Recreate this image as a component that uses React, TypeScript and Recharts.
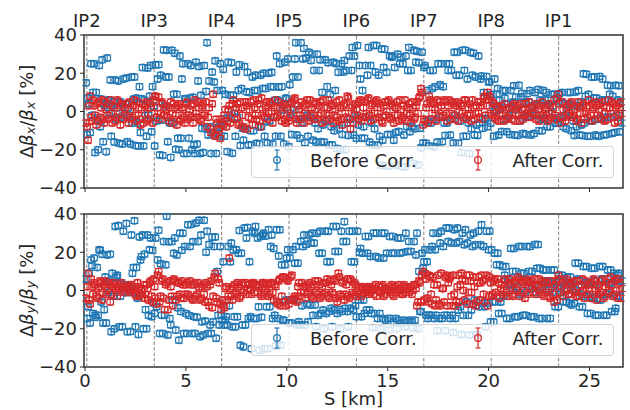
import React from 'react';
import {
  ScatterChart,
  Scatter,
  XAxis,
  YAxis,
  ErrorBar,
  ReferenceLine,
  ReferenceArea,
} from 'recharts';

// BPM positions along the ring [km], two interleaved families
const S_KM_A = [
  0.05, 0.15, 0.25, 0.35, 0.45, 0.55, 0.65, 0.75, 0.85, 0.95,
  1.05, 1.15, 1.25, 1.35, 1.45, 1.55, 1.65, 1.75, 1.85, 1.95,
  2.05, 2.15, 2.25, 2.35, 2.45, 2.55, 2.65, 2.75, 2.85, 2.95,
  3.05, 3.15, 3.25, 3.35, 3.45, 3.55, 3.65, 3.75, 3.85, 3.95,
  4.05, 4.15, 4.25, 4.35, 4.45, 4.55, 4.65, 4.75, 4.85, 4.95,
  5.05, 5.15, 5.25, 5.35, 5.45, 5.55, 5.65, 5.75, 5.85, 5.95,
  6.05, 6.15, 6.25, 6.35, 6.45, 6.55, 6.65, 6.75, 6.85, 6.95,
  7.05, 7.15, 7.25, 7.35, 7.45, 7.55, 7.65, 7.75, 7.85, 7.95,
  8.05, 8.15, 8.25, 8.35, 8.45, 8.55, 8.65, 8.75, 8.85, 8.95,
  9.05, 9.15, 9.25, 9.35, 9.45, 9.55, 9.65, 9.75, 9.85, 9.95,
  10.05, 10.15, 10.25, 10.35, 10.45, 10.55, 10.65, 10.75, 10.85, 10.95,
  11.05, 11.15, 11.25, 11.35, 11.45, 11.55, 11.65, 11.75, 11.85, 11.95,
  12.05, 12.15, 12.25, 12.35, 12.45, 12.55, 12.65, 12.75, 12.85, 12.95,
  13.05, 13.15, 13.25, 13.35, 13.45, 13.55, 13.65, 13.75, 13.85, 13.95,
  14.05, 14.15, 14.25, 14.35, 14.45, 14.55, 14.65, 14.75, 14.85, 14.95,
  15.05, 15.15, 15.25, 15.35, 15.45, 15.55, 15.65, 15.75, 15.85, 15.95,
  16.05, 16.15, 16.25, 16.35, 16.45, 16.55, 16.65, 16.75, 16.85, 16.95,
  17.05, 17.15, 17.25, 17.35, 17.45, 17.55, 17.65, 17.75, 17.85, 17.95,
  18.05, 18.15, 18.25, 18.35, 18.45, 18.55, 18.65, 18.75, 18.85, 18.95,
  19.05, 19.15, 19.25, 19.35, 19.45, 19.55, 19.65, 19.75, 19.85, 19.95,
  20.05, 20.15, 20.25, 20.35, 20.45, 20.55, 20.65, 20.75, 20.85, 20.95,
  21.05, 21.15, 21.25, 21.35, 21.45, 21.55, 21.65, 21.75, 21.85, 21.95,
  22.05, 22.15, 22.25, 22.35, 22.45, 22.55, 22.65, 22.75, 22.85, 22.95,
  23.05, 23.15, 23.25, 23.35, 23.45, 23.55, 23.65, 23.75, 23.85, 23.95,
  24.05, 24.15, 24.25, 24.35, 24.45, 24.55, 24.65, 24.75, 24.85, 24.95,
  25.05, 25.15, 25.25, 25.35, 25.45, 25.55, 25.65, 25.75, 25.85, 25.95,
  26.05, 26.15, 26.25, 26.35, 26.45, 26.55,
];

const S_KM_B = [
  0.1, 0.2, 0.3, 0.4, 0.5, 0.6, 0.7, 0.8, 0.9, 1.0,
  1.1, 1.2, 1.3, 1.4, 1.5, 1.6, 1.7, 1.8, 1.9, 2.0,
  2.1, 2.2, 2.3, 2.4, 2.5, 2.6, 2.7, 2.8, 2.9, 3.0,
  3.1, 3.2, 3.3, 3.4, 3.5, 3.6, 3.7, 3.8, 3.9, 4.0,
  4.1, 4.2, 4.3, 4.4, 4.5, 4.6, 4.7, 4.8, 4.9, 5.0,
  5.1, 5.2, 5.3, 5.4, 5.5, 5.6, 5.7, 5.8, 5.9, 6.0,
  6.1, 6.2, 6.3, 6.4, 6.5, 6.6, 6.7, 6.8, 6.9, 7.0,
  7.1, 7.2, 7.3, 7.4, 7.5, 7.6, 7.7, 7.8, 7.9, 8.0,
  8.1, 8.2, 8.3, 8.4, 8.5, 8.6, 8.7, 8.8, 8.9, 9.0,
  9.1, 9.2, 9.3, 9.4, 9.5, 9.6, 9.7, 9.8, 9.9, 10.0,
  10.1, 10.2, 10.3, 10.4, 10.5, 10.6, 10.7, 10.8, 10.9, 11.0,
  11.1, 11.2, 11.3, 11.4, 11.5, 11.6, 11.7, 11.8, 11.9, 12.0,
  12.1, 12.2, 12.3, 12.4, 12.5, 12.6, 12.7, 12.8, 12.9, 13.0,
  13.1, 13.2, 13.3, 13.4, 13.5, 13.6, 13.7, 13.8, 13.9, 14.0,
  14.1, 14.2, 14.3, 14.4, 14.5, 14.6, 14.7, 14.8, 14.9, 15.0,
  15.1, 15.2, 15.3, 15.4, 15.5, 15.6, 15.7, 15.8, 15.9, 16.0,
  16.1, 16.2, 16.3, 16.4, 16.5, 16.6, 16.7, 16.8, 16.9, 17.0,
  17.1, 17.2, 17.3, 17.4, 17.5, 17.6, 17.7, 17.8, 17.9, 18.0,
  18.1, 18.2, 18.3, 18.4, 18.5, 18.6, 18.7, 18.8, 18.9, 19.0,
  19.1, 19.2, 19.3, 19.4, 19.5, 19.6, 19.7, 19.8, 19.9, 20.0,
  20.1, 20.2, 20.3, 20.4, 20.5, 20.6, 20.7, 20.8, 20.9, 21.0,
  21.1, 21.2, 21.3, 21.4, 21.5, 21.6, 21.7, 21.8, 21.9, 22.0,
  22.1, 22.2, 22.3, 22.4, 22.5, 22.6, 22.7, 22.8, 22.9, 23.0,
  23.1, 23.2, 23.3, 23.4, 23.5, 23.6, 23.7, 23.8, 23.9, 24.0,
  24.1, 24.2, 24.3, 24.4, 24.5, 24.6, 24.7, 24.8, 24.9, 25.0,
  25.1, 25.2, 25.3, 25.4, 25.5, 25.6, 25.7, 25.8, 25.9, 26.0,
  26.1, 26.2, 26.3, 26.4, 26.5, 26.6,
];

// horizontal beta-beating [%], before correction
const DBX_BEFORE_A = [
  15, 7, -11, -2, 25, 10, -20, -8, 27, 4,
  -21, 6, 16.5, 3, -16, -4, 16, 5, -17, -1,
  17.5, 2, -17, -6, 18, 7, -18, -11, 23, 6,
  -13, -2, 24, 13, -18, -5, 24.5, 19, -23, 3,
  32, 18, -24, -6, 30.5, 9, -20, -14, 25, 6.7,
  -22, -14, 24, 7.5, -22, -17, 23.5, 8.5, -21.5, -9,
  36, 16, -22, -12, 26.5, 11, -13, -8, 22, 9,
  -21, -2, 25.5, 8.5, -13, -3, 24.5, 12, -15, -9,
  20.5, 10, -17.5, -10, 19, 11, -17, -8, 20, 12,
  -16.5, -5, 20.5, 13, -13, 6, 25, 13, -17, 7,
  27.5, 14, -12, 1, 36, 18, -14, -6, 33, 28,
  -13, -3, 30, 21.5, -16, -9, 27, 10, -16, -5,
  25.5, 9, -17.5, -10, 25, 20.5, -20, -12, 26.7, 21.5,
  -12.5, -4, 33.5, 29, -14, -7, 17, 11, -14, -3,
  33.5, 24, -17.5, -9, 34.5, 19, -28, -15, 32.5, 20.5,
  -28.5, -12, 29, 23, -28, -10.5, 28.5, 25, -29, -8,
  33.5, 21.5, -27, -9, 31.5, 25.5, -19, -16.5, 24, 11,
  -18, -6, 21.5, 13, -16, -3, 25, 13, -12.5, -6,
  25, 21.5, -16.5, -2, 31, 19, -21.5, -13, 32, 17,
  -22, -9, 30.5, 18, -12.5, -6, 18.5, 10, -4, -8,
  15.5, 9, -13, 0.5, 12, 6, -10.5, -4, 11, 4,
  -12, 2, 13.5, 7.5, -12.5, -5, 9.5, 5, -12, -3,
  11, 3, -11.5, -2, 11.5, 6, -10, -4, 10, 4,
  -8, -1, 9, 7, -6, -3, 10, 4, -9, 0,
  10, 3, -12.5, -8, 11, 5, -12.5, -6, 19.5, 9,
  -13, -5, 18, 7, -13, -4, 17, 6, -12, -3,
  13.5, 8, -11, -2, 13.5, 5,
];

const DBX_BEFORE_B = [
  -12, 4, 25, 10, -21.5, -4, 24, 6.5, -15.8, 3,
  28, -1, -13, 5, 16.5, 2, -16.6, -3, 17, 4,
  -15.8, -2, 18, 6.5, -17.8, -6, 13, 6.7, -18, -2,
  22.7, 8, -10.6, 2.8, 24.4, 17, -22.7, -4.5, 32.2, 18,
  -15.8, -6, 32, 9, -19.8, -14, 29, 17, -22, 6.7,
  25, 7, -20, -17.5, 25.8, 16, -22, -8.8, 24, 10.5,
  -12.3, -8, 20.6, 15.4, -22, -8.3, 25, 11, -13, -3.6,
  25.8, 8.5, -21.8, -1, 20.6, 11, -17.8, -8.8, 23.5, 10.3,
  -17.5, -10, 18, 11, -16.6, -8, 19, 12, -13, -5.4,
  20, 13, -17, 5.9, 29, 12.8, -13, 0.7, 25.8, 6.7,
  -18.4, -1, 18, 27.5, -12.3, -4, 36, 27.5, -16.3, -2,
  31, 26.7, -15, -6, 30, 21.5, -15.8, -7, 27, 13,
  -17.5, -8, 25.8, 11, -19.3, -9, 25, 20.6, -20, -6,
  29, 21.5, -12.3, -2, 34.5, 24, -14, -8, 24, 19,
  -16, -6, 34.5, 20.6, -17.5, -13, 32.7, 23, -28.5, -12,
  29, 28.4, -15, -11, 30, 25, -28.8, -12.3, 29, 21.5,
  -10.6, -8, 32, 25.8, -28, -8.8, 31, 23, -16.6, -5,
  21.5, 12, -18.4, -4, 25, 14, -15.8, -6, 25, 21.5,
  -12.3, -4, 31, 19, -16.6, -5, 32, 21.5, -13, -6,
  31, 19, -12.3, -7, 29, 17, -8.8, -3.6, 18.3, 15.4,
  -6.2, 3, 17, 9, -12.3, 2, 11, 7, -10.6, -2,
  11, 5, -12.3, 1, 13.7, 7.6, -11.5, -3, 9.3, 5,
  -12.3, -2, 10, 4, -10, -4, 11, 6, -8, -1,
  9, 3, -6.2, -4, 9.3, 5, -8, -2, 10, 4,
  -10, -5, 10.2, 3, -12.3, -7, 19.7, 8, -13, -5,
  18, 7, -12.3, -4, 18.3, 6, -12.3, -3, 13.7, 9,
  -11.5, -3, 13.7, 6, -10.6, -6,
];

// horizontal beta-beating [%], after correction
const DBX_AFTER_A = [
  -6, -15, 8, -5, 3, -7, 5, -3, 6, -6,
  1, -4, 6, -6, 2, -3, 5, -7, 3, -2,
  4, -6, 1, -3, 6, -5, 2, -7, 4, -1,
  5, -4, 2, -6, 8, -3, 7.5, -1, 4, -2,
  3, -5, 5, -1, 2, -7, 4, -4, 1, -6,
  5, -2, 3, -6, 6, -3, 2, -5, 4, -1,
  -8, 2, -11, 9, -13, -6, -10, -4, -7, 1,
  -5, 3, -3, 6, -1, 4, -6, 2, -8, 5,
  -9, 1, -4, 6, -2, 4, -5, 7, -1, 3,
  -4, 5, 0, -3, 6, -2, 2, -5, 4, -6,
  1, -3, 5, 6, -4, 3, -2, 5, -6, 4,
  -3, 6, 1, -4, 4, -2, 5, -6, 2, -1,
  6, -4, 3, -2, 5, -5, 2, -7, 4, -3,
  7, -9, 3, -2, 1, -4, 6, -3, 5, -1,
  7, -5, 4, -1, 6, -3, 2, -6, 5, 0,
  6, -4, 3, -2, 5, -5, 1, -3, 6, -1,
  4, -6, 2, -3, 5, 7, 12, -7, -5, 4,
  8, -4, 5, 1, 6, -3, 3, -2, 5, -5,
  6, -1, 4, -4, 5, 0, 3, -3, 6, -2,
  4, -5, 2, -1, 5, -3, 3, 7, -2, 10,
  8, -2, 4, -4, 2, -1, 3, -5, 1, -3,
  2, -4, 4, -1, 3, -5, 1, -2, 4, -3,
  2, -1, 3, -4, 1, -2, 5, -3, 2, -5,
  3, -1, 6, -4, 9, -6, 5, -3, 2, -2,
  4, -3, 1, -5, 5, -1, 3, -4, 2, 6,
  -2, 4, -4, 3, 1, -3, 5, -5, 2, 6,
  -1, 4, -6, 3, -2, 5,
];

const DBX_AFTER_B = [
  -8, 3, -3, 6, -2, 4, -5, 2, -4, 5,
  -2, 4, -1, 3, -5, 6, -1, 4, -4, 2,
  -3, 5, -4, 3, -2, 5, -4, 1, -6, 3,
  -5, 4, -1, 6, 8, 2, -4, 5, -2, 1,
  -3, 2, -6, 4, -2, 3, -5, 2, -3, 4,
  -4, 1, -3, 4, -1, 5, -4, 3, -2, 5,
  -3, -9, 4, -12, -4, -9, -14, -6, -2, -8,
  1, -6, 4, -4, 2, -7, 5, -2, -9, 3,
  -3, 5, -7, 2, -4, 6, -8, 1, -3, 5,
  -1, 4, -6, 2, -3, 5, -1, 3, -4, 2,
  -5, 4, -2, 7, -6, 1, -4, 3, -1, 6,
  -5, 2, -2, 5, -4, 3, -1, 6, -5, 2,
  -2, 4, -6, 1, -3, 6, -4, 3, -1, 8,
  -4, 2, -6, 4, -2, 5, -5, 2, -3, 6,
  -2, 3, -4, 5, -1, 4, -5, 3, -2, 5,
  -3, 4, -6, 2, -2, 6, -4, 3, -5, 2,
  -2, 5, -4, 3, -1, 8, 10, -4, 2, -6,
  6, -1, 4, -5, 2, 5, -3, 6, -1, 3,
  -4, 5, -2, 3, -5, 4, -1, 6, -4, 2,
  -2, 6, -4, 3, -1, 5, -4, 8, 3, 6,
  -1, 5, -3, 3, -5, 1, -2, 4, -4, 2,
  -1, 3, -5, 2, -2, 4, -4, 1, -1, 5,
  -3, 2, -1, 4, -5, 3, -2, 1, -4, 4,
  -3, 2, -2, 7, 4, -3, 1, -5, 3, -1,
  5, -2, 3, -4, 2, -6, 4, -1, -3, 3,
  -5, 2, 5, -2, 4, -4, 3, -1, -4, 2,
  5, -3, 2, -5, 4, -1,
];

// vertical beta-beating [%], before correction
const DBY_BEFORE_A = [
  6, -8.5, -17, 13, 17, -14, -13, 21, 19, -10,
  -17, -1, 19, 9, -20, 7, 34, -3, -19, 3,
  35, -1, -21.5, 9, 36.5, 12, -23, 16, 29, 19,
  -20, -13, 27.5, 21, -12, -8.5, 31.5, 14, -22.5, -13,
  38.8, 25.5, -18, -5, 27.5, 18.5, -26, -11, 30, 23,
  -22.5, -13, 34.5, 25.5, -22.5, -14, 36.7, 29, -23.3, -16,
  31, 24, -22.5, -16.4, 28, 10, -18, -13, 15, -15.5,
  -18, -8, 24.8, 21, -19, -13.7, 31.4, 19.5, -29.5, -18,
  33, 15, -30.4, -14.6, 33.5, 27.4, -31.2, -14, 30, 28.5,
  -30.4, -8.5, 29, 22, -29, -14.6, 31.8, 13.4, -15.5, -5,
  21.3, 17, -17, -5, 23, 14.3, -18, -8, 29, 24,
  -16.4, -7.6, 30, 24.8, -19, -13, 31, 19.5, -20, -12,
  31, 15, -19, -10.2, 33.5, 20.4, -20, -11, 36, 25.6,
  -19, -9.3, 31, 15, -13.7, -5, 22, 19.5, -12, -10.2,
  28.3, 17.8, -19.5, -12, 30, 17, -20, -14.6, 30, 19.5,
  -20.5, -14.6, 28.3, 19.5, -20, -15.5, 27.4, 19.9, -19, -16.4,
  25.6, 20.4, -19.5, -15.5, 30, 10, -11, 11.6, 21.3, 15,
  -13, -12.9, 30, 21.3, -21, -14.6, 31, 23, -21, -13,
  32.7, 24.8, -22, -14.6, 32.7, 25.6, -23, -13, 31.8, 24.8,
  -23.3, -10.2, 30, 23.9, -23, -8.5, 34.4, 23, -19, -6.7,
  31, 21.3, -16.4, -5.9, 19.5, 13.4, -12, -3, 12.5, 6,
  -14.6, 1, 22, 10, -13.7, -2, 23, 9, -13, 2,
  23, 10, -13.7, -1, 24, 11.6, -14.6, 3, 10.7, 5,
  -14.6, -1, 10.7, 4, -8.5, 1, 8, 3, -5.9, -2,
  7, 2, -6.7, 0, 14.3, 5, -8.5, -3, 12.5, 4,
  -12, -4, 11.6, 3, -13, -5, 12.5, 6, -13, -2,
  10.7, 4, -11, -3, 9, 5,
];

const DBY_BEFORE_B = [
  -14.6, 9, 16, -12, -13, 12, 21.3, -6, -17, 7,
  18.6, 5, -21.6, -3, 33.5, 8, -19, 4, 31, -1,
  -21.6, 2, 29, 12, -19, -4, 28, 17.8, -20, -10,
  29, 21.3, -13.7, -6.7, 27.4, 16, -22.5, -12.9, 25.6, 13.4,
  -23.3, -14.6, 25.6, 19.5, -20.7, -9, 30, 21, -22.5, -12,
  34.4, 23, -22.5, -13.7, 35.3, 25.6, -24.2, -16.4, 36.7, 20,
  -22.5, -18, 27.9, 23, -25, -13, 23, -15.5, -18, -13.7,
  23, 15, -19, -13.7, 21.3, 19.5, -28.6, -18, 32.7, 27.4,
  -14.6, -13.7, 31, 30, -14.6, -8.5, 28.3, 29, -30.4, -8.5,
  31.8, 23, -14.6, -13, 31.8, 18, -28.6, -15.5, 13.4, 17,
  -17, -5, 21.3, 14.3, -18, -16.4, 25.6, 23, -18, -7,
  29, 24.8, -13, -7.6, 30, 19.5, -12, -10.2, 31, 15,
  -11, -9.3, 33.5, 20.4, -12, -10, 31, 25.6, -9.3, -11,
  31, 15, -10.2, -8, 31, 20, -13.7, -5, 28.3, 19.5,
  -10.2, -12, 30, 17.8, -14.6, -12, 30, 17, -15.5, -14.6,
  28.3, 19.5, -16.4, -14.6, 27.4, 19.5, -17, -15.5, 30, 20.4,
  -15.5, -16.4, 25.6, 18.6, -20, -11, 19.5, 15, -12.9, -14.6,
  21.3, 23, -14.6, -13, 30, 24.8, -14.6, -13, 32.7, 25.6,
  -14.6, -13, 31.8, 24.8, -10.2, -8.5, 30, 23.9, -5.9, -13,
  29, 23, -5, -23, 31, 23.9, -6.7, -8.5, 31, 21.3,
  -16.4, -5.9, 19.5, 13.4, -12, -6, 12.5, 8, -14.6, 3,
  22, 10, -13.7, 2, 23, 9, -13, -1, 23, 10,
  -13.7, 1, 24, 11.6, -14.6, 2, 10.7, 5, -14.6, 0,
  10.7, 4, -8.5, 2, 8, -1, -5.9, 3, 7, -6.7,
  -7.6, 1, 14.3, 6, -8.5, -2, 12.5, 4, -12, -3,
  11.6, 5, -13, -4, 12.5, 6, -13, -2, 10.7, 4,
  -11, 9, -9.3, 8, -3, 5,
];

// vertical beta-beating [%], after correction
const DBY_AFTER_A = [
  -4, 9, -7, 2, 4, -3, 1, 5, -5, 3,
  -2, 4, -6, 2, 3, -1, 1, 3, 0, 2,
  1, 3, -1, 2, 0, -3, 2, -2, 1, -4,
  3, -5, 5, -6, 2, -7, 10, -3, 6, -10,
  4, -5, 2, -8, 5, -3, 4, -4, 3, -2,
  4, -3, 3, -5, 4, -2, 2, -4, 3, -6,
  2, -8, 5, -3, 9, -6, 4, -10, -8, 1,
  -5, 17, -3, 2, -2, 4, -4, 3, -1, 4,
  1, 3, -2, 4, 2, -1, 3, -3, 4, 1,
  3, -2, 4, -5, 2, -7, 6, -3, 7, -8,
  5, -5, 8, -4, -5, 2, -3, 4, -1, 2,
  -2, 4, -3, 3, -1, 5, -4, 2, -2, 4,
  -3, 5, -1, 6, -4, 9, -2, 4, -5, 3,
  -3, 6, -1, 4, -3, 1, -2, 2, -1, 1,
  -2, 2, 0, 1, -3, 2, -1, 3, -2, 1,
  0, 2, -2, 1, -1, 3, 0, -2, 2, 1,
  -1, 2, 0, 3, -8, 5, -6, 10, 9, -4,
  8, -2, 7, -8, 3, -7, 9, 1, 7, -8,
  6, -3, 8, -8, 2, -6, 9, 0, 5, -7,
  8, -1, 7, -8, 4, -5, 8, -2, 6, -8,
  7, -3, 5, -1, 6, -4, 3, 0, 5, -3,
  6, -2, 4, 1, 7, -3, 5, 0, 6, -2,
  4, 1, 6, -2, 3, 0, 5, -3, 4, 1,
  -4, 2, -6, 5, 8, -1, 4, 0, 6, -2,
  3, 0, 5, -3, 2, -1, 6, -4, 3, 1,
  4, -2, 5, -5, 2, -1, 6, -3, 4, 0,
  7, -3, 5, 0, 6, -4,
];

const DBY_AFTER_B = [
  2, -5, 6, -2, 3, -4, 2, 4, -1, 5,
  0, 3, -2, 4, 1, -3, 2, 4, 1, -1,
  2, 0, 3, 1, -2, 4, -3, 0, 3, -2,
  1, 4, -3, 6, -4, 8, -6, 5, -4, 3,
  -10, 5, -3, 6, -5, 4, -2, 5, -4, 3,
  -2, 5, -4, 3, -3, 4, -5, 2, -2, 4,
  -6, 3, -9, 7, -4, 6, -7, -5, -9, 2,
  -3, 1, -5, 3, -1, 2, -3, 4, 0, -2,
  3, 0, 4, -1, 3, 2, -2, 4, -1, 3,
  -3, 4, -1, 3, -6, 5, -8, 7, -6, 6,
  -7, 7, -5, -3, -6, 4, -1, 2, -4, 3,
  -1, 2, -4, 5, -2, 3, -3, 4, -1, 6,
  -4, 3, -2, 5, -6, 7, -3, 5, -2, 6,
  -4, 5, -2, 3, -1, 2, -3, 1, 0, 2,
  -1, 1, -2, 3, 0, -1, 2, -3, 1, 0,
  -1, 3, -3, 2, 0, 1, -2, 3, -1, 2,
  0, -2, 3, 1, -6, 4, 8, -5, 6, -6,
  7, -7, 3, -5, 8, -8, 1, -6, 8, 4,
  7, -8, -2, -6, 8, 3, 6, -5, 8, -1,
  5, -7, 2, -6, 7, 4, 5, -6, 8, -3,
  4, -2, 6, -3, 4, 1, -2, 6, -1, 4,
  3, -3, 5, 0, 6, -1, 4, -4, 5, 2,
  5, -1, 3, 2, 6, -2, 4, -1, 5, -3,
  5, -2, 3, -5, 6, 2, -3, 5, 1, 4,
  -2, 4, -1, 5, -3, 3, 0, 5, -2, 3,
  -4, 6, 0, 3, -2, 5, -4, 2, 6, -1,
  3, -2, 6, -4, 4, 1,
];

const IP_S = [0.09, 3.43, 6.77, 10.11, 13.45, 16.79, 20.13, 23.47];
const IP_NAMES = ['IP2', 'IP3', 'IP4', 'IP5', 'IP6', 'IP7', 'IP8', 'IP1'];
const X_TICKS = [0, 5, 10, 15, 20, 25];
const Y_TICKS = [-40, -20, 0, 20, 40];
const ERR = 1.5; // typical BPM uncertainty [%]

const X_DOMAIN: [number, number] = [-0.05, 26.66];
const Y_DOMAIN: [number, number] = [-40, 40];
const BLUE = '#1f77b4';
const RED = '#d62728';
const INK = '#262626';
const FONT = '"DejaVu Sans", sans-serif';
const FS = 18;

const toPoints = (valsA: number[], valsB: number[]) => [
  ...S_KM_A.map((s, i) => ({ s, v: valsA[i], err: ERR })),
  ...S_KM_B.map((s, i) => ({ s, v: valsB[i], err: ERR })),
];

const fmtY = (v: number) => (v < 0 ? `\u2212${Math.abs(v)}` : String(v));

const ring = (color: string) => (p: any) =>
  p.cx == null ? null : (
    <circle cx={p.cx} cy={p.cy} r={3.4} fill="none" stroke={color} strokeWidth={1.2} />
  );

function YLabel({ viewBox, sub }: any) {
  const vb = viewBox || { x: 0, y: 35, width: 84, height: 153 };
  const cx = vb.x + 26;
  const cy = vb.y + vb.height / 2;
  return (
    <text
      x={cx}
      y={cy}
      transform={`rotate(-90 ${cx} ${cy})`}
      textAnchor="middle"
      dominantBaseline="central"
      fontSize={FS}
      fill={INK}
      fontFamily={FONT}
    >
      <tspan>Δ</tspan>
      <tspan fontStyle="italic">β</tspan>
      <tspan fontStyle="italic" fontSize={13} dy={4}>{sub}</tspan>
      <tspan dy={-4}>/</tspan>
      <tspan fontStyle="italic">β</tspan>
      <tspan fontStyle="italic" fontSize={13} dy={4}>{sub}</tspan>
      <tspan dy={-4}> [%]</tspan>
    </text>
  );
}

function XLabel({ viewBox }: any) {
  const vb = viewBox || { x: 84, y: 187, width: 539, height: 43 };
  return (
    <text
      x={vb.x + vb.width / 2}
      y={vb.y + vb.height - 5}
      textAnchor="middle"
      fontSize={FS}
      fill={INK}
      fontFamily={FONT}
    >
      S [km]
    </text>
  );
}

function LegendMark({ x, color }: { x: number; color: string }) {
  return (
    <g stroke={color} strokeWidth={1.2} fill="none">
      <line x1={x} x2={x} y1={3} y2={23} />
      <line x1={x - 2.5} x2={x + 2.5} y1={3} y2={3} />
      <line x1={x - 2.5} x2={x + 2.5} y1={23} y2={23} />
      <circle cx={x} cy={13} r={3.4} />
    </g>
  );
}

function LegendBox({ top }: { top: number }) {
  return (
    <div
      style={{
        position: 'absolute',
        left: 251,
        top,
        width: 363,
        height: 32,
        boxSizing: 'border-box',
        border: '1px solid rgba(204,204,204,0.8)',
        borderRadius: 4,
        background: 'rgba(255,255,255,0.8)',
      }}
    >
      <svg width={361} height={30} style={{ display: 'block' }}>
        <LegendMark x={25} color={BLUE} />
        <text x={58} y={19.7} fontSize={FS} fill={INK} fontFamily={FONT}>
          Before Corr.
        </text>
        <LegendMark x={226} color={RED} />
        <text x={260.5} y={19.7} fontSize={FS} fill={INK} fontFamily={FONT}>
          After Corr.
        </text>
      </svg>
    </div>
  );
}

interface PanelProps {
  before: any[];
  after: any[];
  sub: string;
  height: number;
  marginTop: number;
  withIp: boolean;
  withXLabels: boolean;
}

function Panel({ before, after, sub, height, marginTop, withIp, withXLabels }: PanelProps) {
  return (
    <ScatterChart
      width={630}
      height={height}
      margin={{ top: marginTop, right: 7, bottom: 0, left: 0 }}
    >
      {withIp && (
        <XAxis
          xAxisId="ip"
          orientation="top"
          type="number"
          dataKey="s"
          domain={X_DOMAIN}
          allowDataOverflow
          ticks={IP_S}
          interval={0}
          tickFormatter={(_v: number, i: number) => IP_NAMES[i]}
          height={35}
          tickSize={0}
          tickMargin={8}
          axisLine={false}
          tickLine={false}
          tick={{ fontSize: FS, fill: INK }}
        />
      )}
      <XAxis
        xAxisId="s"
        type="number"
        dataKey="s"
        domain={X_DOMAIN}
        allowDataOverflow
        ticks={X_TICKS}
        interval={0}
        tickFormatter={withXLabels ? (v: number) => String(v) : () => ''}
        height={withXLabels ? 43 : 12}
        tickSize={4}
        tickMargin={3}
        axisLine={false}
        tickLine={{ stroke: INK }}
        tick={{ fontSize: FS, fill: INK }}
        label={withXLabels ? { content: (p: any) => <XLabel viewBox={p.viewBox} /> } : undefined}
      />
      <YAxis
        yAxisId="v"
        type="number"
        dataKey="v"
        domain={Y_DOMAIN}
        allowDataOverflow
        ticks={Y_TICKS}
        interval={0}
        tickFormatter={fmtY}
        width={84}
        tickSize={4}
        tickMargin={3}
        axisLine={false}
        tickLine={{ stroke: INK }}
        tick={{ fontSize: FS, fill: INK }}
        label={{ content: (p: any) => <YLabel viewBox={p.viewBox} sub={sub} /> }}
      />
      {IP_S.map((ip) => (
        <ReferenceLine
          key={ip}
          x={ip}
          xAxisId="s"
          yAxisId="v"
          stroke="#808080"
          strokeDasharray="3.5 2"
          strokeWidth={1}
        />
      ))}
      <Scatter
        xAxisId="s"
        yAxisId="v"
        data={before}
        dataKey="v"
        shape={ring(BLUE)}
        isAnimationActive={false}
      >
        <ErrorBar
          dataKey="err"
          direction="y"
          width={4}
          stroke={BLUE}
          strokeWidth={1}
          isAnimationActive={false}
        />
      </Scatter>
      <Scatter
        xAxisId="s"
        yAxisId="v"
        data={after}
        dataKey="v"
        shape={ring(RED)}
        isAnimationActive={false}
      >
        <ErrorBar
          dataKey="err"
          direction="y"
          width={4}
          stroke={RED}
          strokeWidth={1}
          isAnimationActive={false}
        />
      </Scatter>
      <ReferenceArea
        xAxisId="s"
        yAxisId="v"
        x1={X_DOMAIN[0]}
        x2={X_DOMAIN[1]}
        y1={Y_DOMAIN[0]}
        y2={Y_DOMAIN[1]}
        fill="none"
        fillOpacity={0}
        stroke="#333333"
        strokeWidth={1.5}
        ifOverflow="visible"
      />
    </ScatterChart>
  );
}

export default function App() {
  return (
    <div
      style={{
        position: 'absolute',
        left: 0,
        top: 0,
        width: 630,
        height: 410,
        background: '#fff',
        fontFamily: FONT,
        overflow: 'hidden',
      }}
    >
      <div style={{ position: 'absolute', left: 0, top: 0 }}>
        <Panel
          before={toPoints(DBX_BEFORE_A, DBX_BEFORE_B)}
          after={toPoints(DBX_AFTER_A, DBX_AFTER_B)}
          sub="x"
          height={200}
          marginTop={0}
          withIp
          withXLabels={false}
        />
      </div>
      <div style={{ position: 'absolute', left: 0, top: 180 }}>
        <Panel
          before={toPoints(DBY_BEFORE_A, DBY_BEFORE_B)}
          after={toPoints(DBY_AFTER_A, DBY_AFTER_B)}
          sub="y"
          height={230}
          marginTop={34}
          withIp={false}
          withXLabels
        />
      </div>
      <LegendBox top={146} />
      <LegendBox top={324} />
    </div>
  );
}
